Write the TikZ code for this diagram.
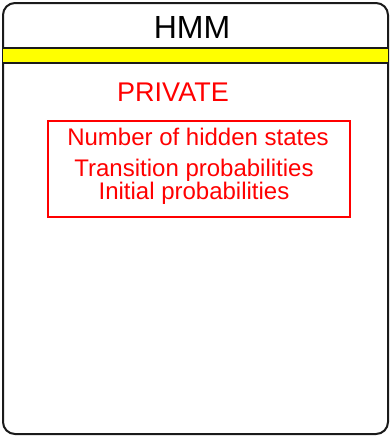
\documentclass[tikz,border=0pt]{standalone}
\usepackage{fontspec}
\setmainfont{Liberation Sans}
\usepackage{tikz}
\usetikzlibrary{positioning}
\definecolor{ink}{HTML}{1A1A1A}
\definecolor{alert}{HTML}{FF0000}
\definecolor{band}{HTML}{FFFF00}
\tikzset{
  frame/.style={draw=ink,line width=2pt,rounded corners=12pt,fill=white},
  title/.style={font=\fontsize{32}{36}\selectfont,text=black,anchor=base,inner sep=0pt},
  section/.style={font=\fontsize{27}{30}\selectfont,text=alert,anchor=base,inner sep=0pt},
  item/.style={font=\fontsize{24}{28}\selectfont,text=alert,anchor=base,inner sep=0pt},
  itembox/.style={draw=alert,line width=1.5pt},
}
\begin{document}
\begin{tikzpicture}[x=1pt,y=-1pt]
  \useasboundingbox (0,0) rectangle (391,437);
  \draw[frame] (3,3) rectangle (388,434);
  \fill[band] (3,48) rectangle (388,63);
  \draw[ink,line width=1.5pt] (3,48) -- (388,48);
  \draw[ink,line width=1.5pt] (3,63) -- (388,63);
  \node[title] (name) at (192,38) {HMM};
  \node[section] (priv) at (173,101) {PRIVATE};
  \node[itembox,minimum width=302pt,minimum height=96pt] (members) at (199,169) {};
  \node[item] (nstates) at (198,145.5) {Number of hidden states};
  \node[item] (trans) at (194,176.5) {Transition probabilities};
  \node[item] (init) at (194,199.5) {Initial probabilities};
\end{tikzpicture}
\end{document}
